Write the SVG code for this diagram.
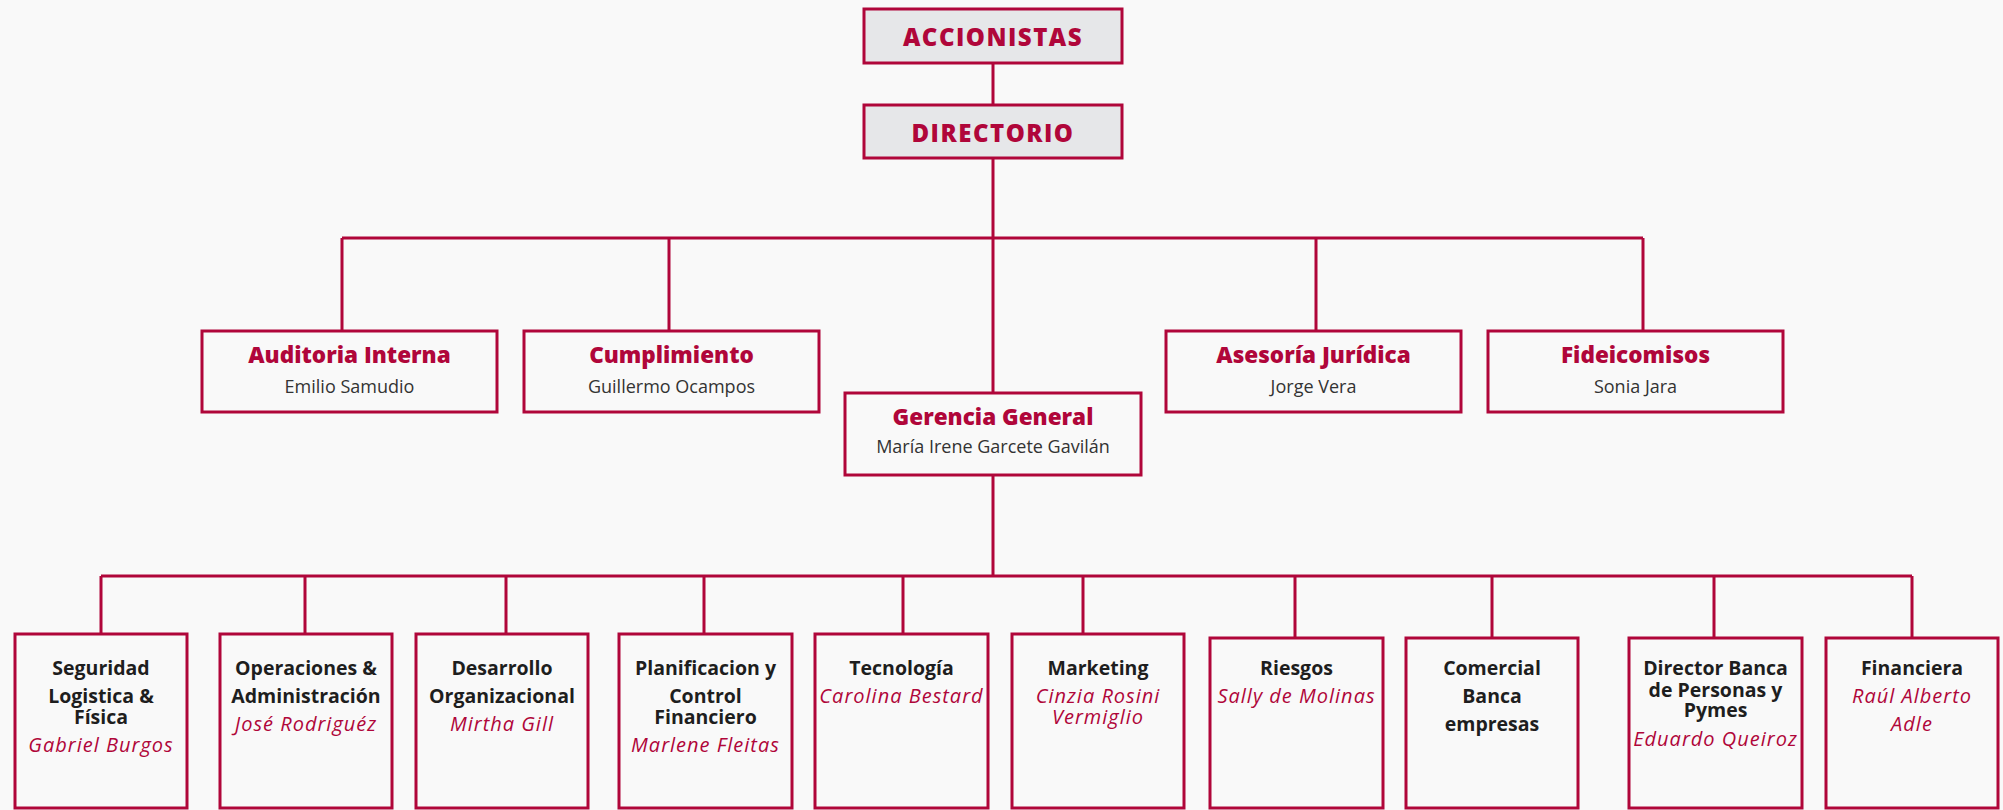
<svg xmlns="http://www.w3.org/2000/svg" width="2003" height="810" viewBox="0 0 2003 810">
<style>
.bg{fill:#F9F9F9}
.top{fill:#E6E7E9;stroke:#B0063A;stroke-width:3}
.box{fill:#F9F9F9;stroke:#B0063A;stroke-width:3}
.ln{fill:none;stroke:#B0063A;stroke-width:3}
.tt{font-family:"Open Sans","Liberation Sans",sans-serif;font-weight:800;fill:#B0063A;text-anchor:middle}
.t1{font-size:24px;letter-spacing:1.5px}
.t2{font-size:22.5px}
.nm{font-family:"Open Sans","Liberation Sans",sans-serif;font-size:18px;fill:#333333;text-anchor:middle}
.bt{font-family:"Open Sans","Liberation Sans",sans-serif;font-weight:700;font-size:19.5px;fill:#1E1E1E;text-anchor:middle}
.bn{font-family:"Open Sans","Liberation Sans",sans-serif;font-style:italic;font-size:20px;letter-spacing:1px;fill:#B0063A;text-anchor:middle}
</style>
<rect class="bg" x="0" y="0" width="2003" height="810"/>
<g id="connectors">
<path class="ln" d="M993 64V104M993 159V393M342 238H1643M342 238V331M669 238V331M1316 238V331M1643 238V331M993 475V576M101 576H1912M101 576V634M305 576V634M506 576V634M704 576V634M903 576V634M1083 576V634M1295 576V638M1492 576V638M1714 576V638M1912 576V638"/>
</g>
<g id="accionistas">
<rect class="top" x="864" y="9" width="258" height="54"/>
<text class="tt t1" x="993" y="46">ACCIONISTAS</text>
</g>
<g id="directorio">
<rect class="top" x="864" y="105" width="258" height="53"/>
<text class="tt t1" x="993" y="142">DIRECTORIO</text>
</g>
<g id="auditoria">
<rect class="box" x="202" y="331" width="295" height="81"/>
<text class="tt t2" x="349.5" y="363">Auditoria Interna</text>
<text class="nm" x="349.5" y="393">Emilio Samudio</text>
</g>
<g id="cumplimiento">
<rect class="box" x="524" y="331" width="295" height="81"/>
<text class="tt t2" x="671.5" y="363">Cumplimiento</text>
<text class="nm" x="671.5" y="393">Guillermo Ocampos</text>
</g>
<g id="asesoria">
<rect class="box" x="1166" y="331" width="295" height="81"/>
<text class="tt t2" x="1313.5" y="363">Asesoría Jurídica</text>
<text class="nm" x="1313.5" y="393">Jorge Vera</text>
</g>
<g id="fideicomisos">
<rect class="box" x="1488" y="331" width="295" height="81"/>
<text class="tt t2" x="1635.5" y="363">Fideicomisos</text>
<text class="nm" x="1635.5" y="393">Sonia Jara</text>
</g>
<g id="gerencia">
<rect class="box" x="845" y="393" width="296" height="82"/>
<text class="tt t2" x="993" y="425">Gerencia General</text>
<text class="nm" x="993" y="453">María Irene Garcete Gavilán</text>
</g>
<g id="seguridad">
<rect class="box" x="15" y="634" width="172" height="174"/>
<text class="bt" x="101" y="675">Seguridad</text>
<text class="bt" x="101" y="703">Logistica &amp;</text>
<text class="bt" x="101" y="724">Física</text>
<text class="bn" x="101" y="752">Gabriel Burgos</text>
</g>
<g id="operaciones">
<rect class="box" x="220" y="634" width="172" height="174"/>
<text class="bt" x="306" y="675">Operaciones &amp;</text>
<text class="bt" x="306" y="703">Administración</text>
<text class="bn" x="306" y="731">José Rodriguéz</text>
</g>
<g id="desarrollo">
<rect class="box" x="416" y="634" width="172" height="174"/>
<text class="bt" x="502" y="675">Desarrollo</text>
<text class="bt" x="502" y="703">Organizacional</text>
<text class="bn" x="502" y="731">Mirtha Gill</text>
</g>
<g id="planificacion">
<rect class="box" x="619" y="634" width="173" height="174"/>
<text class="bt" x="705.5" y="675">Planificacion y</text>
<text class="bt" x="705.5" y="703">Control</text>
<text class="bt" x="705.5" y="724">Financiero</text>
<text class="bn" x="705.5" y="752">Marlene Fleitas</text>
</g>
<g id="tecnologia">
<rect class="box" x="815" y="634" width="173" height="174"/>
<text class="bt" x="901.5" y="675">Tecnología</text>
<text class="bn" x="901.5" y="703">Carolina Bestard</text>
</g>
<g id="marketing">
<rect class="box" x="1012" y="634" width="172" height="174"/>
<text class="bt" x="1098" y="675">Marketing</text>
<text class="bn" x="1098" y="703">Cinzia Rosini</text>
<text class="bn" x="1098" y="724">Vermiglio</text>
</g>
<g id="riesgos">
<rect class="box" x="1210" y="638" width="173" height="170"/>
<text class="bt" x="1296.5" y="675">Riesgos</text>
<text class="bn" x="1296.5" y="703">Sally de Molinas</text>
</g>
<g id="comercial">
<rect class="box" x="1406" y="638" width="172" height="170"/>
<text class="bt" x="1492" y="675">Comercial</text>
<text class="bt" x="1492" y="703">Banca</text>
<text class="bt" x="1492" y="731">empresas</text>
</g>
<g id="director-banca">
<rect class="box" x="1629" y="638" width="173" height="170"/>
<text class="bt" x="1715.5" y="675">Director Banca</text>
<text class="bt" x="1715.5" y="697">de Personas y</text>
<text class="bt" x="1715.5" y="717">Pymes</text>
<text class="bn" x="1715.5" y="746">Eduardo Queiroz</text>
</g>
<g id="financiera">
<rect class="box" x="1826" y="638" width="172" height="170"/>
<text class="bt" x="1912" y="675">Financiera</text>
<text class="bn" x="1912" y="703">Raúl Alberto</text>
<text class="bn" x="1912" y="731">Adle</text>
</g>
</svg>
